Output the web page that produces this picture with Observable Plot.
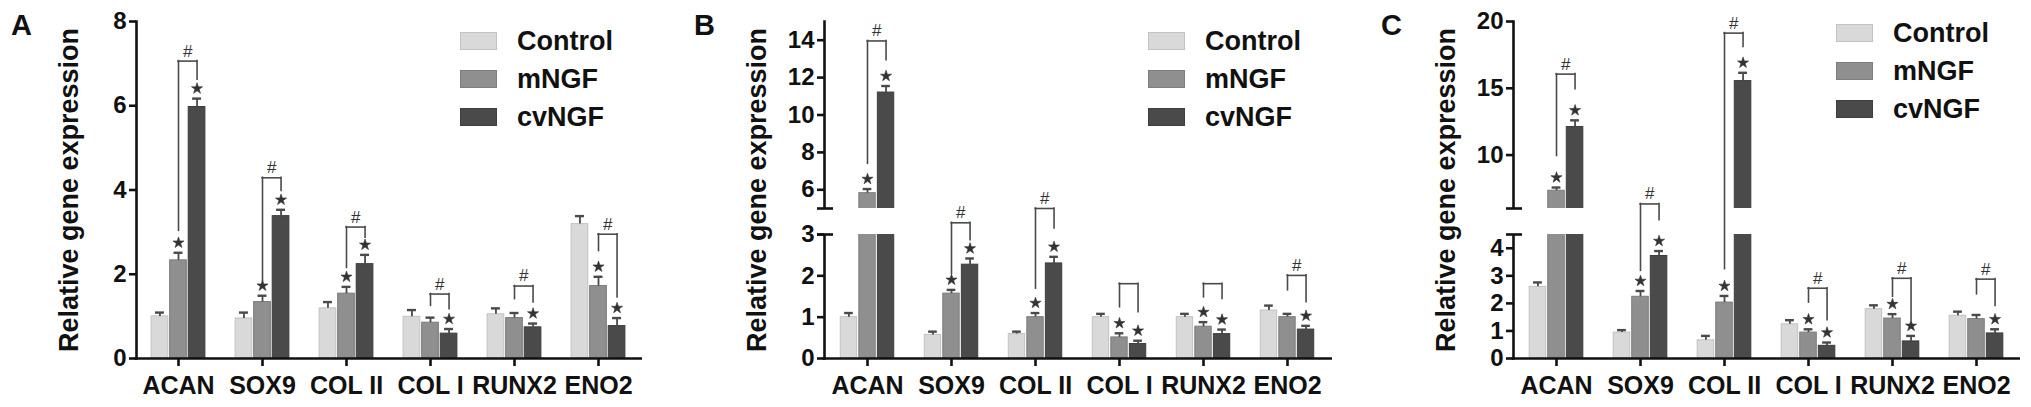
<!DOCTYPE html>
<html><head><meta charset="utf-8">
<script src="https://cdn.jsdelivr.net/npm/d3@7"></script>
<script src="https://cdn.jsdelivr.net/npm/@observablehq/plot@0.6"></script>
<style>
body{margin:0;background:#fff;}
#root{position:relative;width:2031px;height:407px;overflow:hidden;font-family:Arial,"Liberation Sans",sans-serif;color:#111;}
.panel{position:absolute;top:0;}
.letter{position:absolute;font-size:29px;font-weight:bold;line-height:29px;}
.legend{position:absolute;}
.row{display:flex;align-items:center;height:18px;margin-bottom:20px;}
.sw{width:37px;height:18px;margin-right:20px;box-sizing:border-box;}
.lab{font-size:27px;font-weight:bold;line-height:18px;white-space:nowrap;}
</style></head><body><div id="root"></div>
<script>
// ---------- shared categories ----------
const genes = ["ACAN", "SOX9", "COL II", "COL I", "RUNX2", "ENO2"];
const groups = ["Control", "mNGF", "cvNGF"];
const groupColors = ["#d9d9d9", "#8f8f8f", "#4a4a4a"];
const groupStrokes = ["#c2c2c2", "#7c7c7c", "#3e3e3e"];
const yTitle = "Relative gene expression";
const panelLetters = ["A", "B", "C"];

// ---------- Panel A ----------
const aControl    = [1.00, 0.95, 1.19, 0.99, 1.05, 3.19];
const aControlErr = [0.09, 0.14, 0.15, 0.16, 0.14, 0.19];
const aMNGF       = [2.33, 1.34, 1.54, 0.85, 0.96, 1.72];
const aMNGFErr    = [0.18, 0.15, 0.16, 0.12, 0.12, 0.22];
const aCvNGF      = [5.97, 3.38, 2.24, 0.59, 0.74, 0.77];
const aCvNGFErr   = [0.20, 0.15, 0.22, 0.11, 0.09, 0.19];
const aStarMNGF   = [1, 1, 1, 0, 0, 1];
const aStarCvNGF  = [1, 1, 1, 1, 1, 1];
const aBracketTop   = [7.06, 4.29, 3.12, 1.53, 1.72, 2.95];
const aBracketLeft  = [3.03, 1.84, 2.15, 1.25, 1.41, 2.55];
const aBracketRight = [6.62, 3.98, 2.87, 1.17, 1.33, 1.45];
const aHash         = [1, 1, 1, 1, 1, 1];
const aTicks = [0, 2, 4, 6, 8];
const aTop = 8;

// ---------- Panel B ----------
const bControl    = [1.00, 0.57, 0.59, 1.00, 1.00, 1.16];
const bControlErr = [0.10, 0.08, 0.06, 0.08, 0.08, 0.12];
const bMNGF       = [5.82, 1.57, 1.00, 0.51, 0.77, 1.00];
const bMNGFErr    = [0.22, 0.09, 0.10, 0.10, 0.11, 0.08];
const bCvNGF      = [11.2, 2.27, 2.30, 0.35, 0.59, 0.70];
const bCvNGFErr   = [0.35, 0.15, 0.16, 0.08, 0.11, 0.09];
const bStarMNGF   = [1, 1, 1, 1, 1, 0];
const bStarCvNGF  = [1, 1, 1, 1, 1, 1];
const bBracketTop   = [13.96, 3.90, 5.00, 1.81, 1.81, 2.01];
const bBracketLeft  = [7.39, 2.05, 1.69, 1.24, 1.48, 1.65];
const bBracketRight = [12.93, 2.86, 3.46, 1.12, 1.44, 1.36];
const bHash         = [1, 1, 1, 0, 0, 1];
const bTicks = [0, 1, 2, 3, 6, 8, 10, 12, 14];
const bBreak = [3, 5];
const bTop = 15;

// ---------- Panel C ----------
const cControl    = [2.60, 0.94, 0.66, 1.24, 1.79, 1.55];
const cControlErr = [0.16, 0.09, 0.16, 0.15, 0.14, 0.15];
const cMNGF       = [7.33, 2.24, 2.03, 0.94, 1.45, 1.43];
const cMNGFErr    = [0.24, 0.21, 0.24, 0.12, 0.16, 0.15];
const cCvNGF      = [12.1, 3.72, 15.54, 0.46, 0.62, 0.91];
const cCvNGFErr   = [0.50, 0.18, 0.62, 0.12, 0.20, 0.15];
const cStarMNGF   = [1, 1, 1, 1, 1, 0];
const cStarCvNGF  = [1, 1, 1, 1, 1, 1];
const cBracketTop   = [16.06, 6.34, 19.13, 2.55, 2.91, 2.88];
const cBracketLeft  = [9.93, 3.18, 3.24, 2.03, 2.24, 2.33];
const cBracketRight = [14.93, 5.33, 18.09, 1.39, 1.39, 1.91];
const cHash         = [1, 1, 1, 1, 1, 1];
const cTicks = [0, 1, 2, 3, 4, 10, 15, 20];
const cBreak = [4.5, 6];
const cTop = 20;

// ---------- layout (positions / styles) ----------
const FONT = 'Arial, "Liberation Sans", sans-serif';
const INK = "#111";
const H = 407, ML = 136, MT = 21, MB = 49;
const PLOT_H = H - MT - MB;          // 337 px of axis
const LOWER_H = 124, GAP_H = 26;     // broken-axis segment heights

function makePanel(p) {
  const frameW = p.frameW;
  const MR = p.width - ML - frameW;
  const step = frameW / genes.length;
  const barStep = 18.55, barW = 16.7;
  const off = [-barStep, 0, barStep];
  const means = [p.control, p.mngf, p.cv];
  const errs = [p.controlErr, p.mngfErr, p.cvErr];
  const stars = [null, p.starM, p.starCv];

  // broken axis: warp data values into a continuous axis coordinate
  const warp = p.breakAt
    ? d3.scaleLinear().domain([0, p.breakAt[0], p.breakAt[1], p.top]).range([0, LOWER_H, LOWER_H + GAP_H, PLOT_H])
    : d3.scaleLinear().domain([0, p.top]).range([0, PLOT_H]);
  const W = v => warp(v);

  const marks = [];
  groups.forEach((grp, j) => {
    const d = genes.map((g, i) => ({gene: g, group: grp, mean: W(means[j][i]), top: W(means[j][i] + errs[j][i])}));
    marks.push(Plot.barY(d, {x: "gene", y: "mean", fill: groupColors[j], stroke: groupStrokes[j], strokeWidth: 1,
      insetLeft: (step - barW) / 2, insetRight: (step - barW) / 2, dx: off[j]}));
    marks.push(Plot.ruleX(d, {x: "gene", y1: "mean", y2: "top", dx: off[j], stroke: "#4a4a4a", strokeWidth: 1.8}));
    marks.push(Plot.tickY(d, {x: "gene", y: "top", dx: off[j], insetLeft: step / 2 - 4.5, insetRight: step / 2 - 4.5, stroke: "#4a4a4a", strokeWidth: 2.4}));
  });
  // axes lines
  marks.push(Plot.frame({anchor: "left", stroke: INK, strokeWidth: 2.6}));
  marks.push(Plot.ruleY([0], {stroke: INK, strokeWidth: 2.6, insetRight: -2, insetLeft: -1.3}));
  // axis break
  if (p.breakAt) {
    marks.push(Plot.rect([p.breakAt], {y1: d => W(d[0]), y2: d => W(d[1]), fill: "white", insetLeft: -14}));
    marks.push(Plot.ruleY(p.breakAt.map(W), {stroke: INK, strokeWidth: 2.6, insetLeft: -7, insetRight: frameW - 9}));
  }
  marks.push(Plot.axisY(p.ticks.map(W), {anchor: "left", tickSize: 7, tickPadding: 3, fontSize: 24, strokeWidth: 2.6, color: INK, label: null,
    tickFormat: v => String(Math.round(warp.invert(v) * 10) / 10)}));
  marks.push(Plot.axisX({tickSize: 8, tickPadding: 10, fontSize: 25, strokeWidth: 2.6, color: INK, label: null}));
  marks.push(Plot.text([yTitle], {text: d => d, frameAnchor: "left", textAnchor: "middle", lineAnchor: "middle", dx: -67, rotate: -90, fontSize: 27, fill: INK}));

  // stars
  [1, 2].forEach(j => {
    const d = genes.map((g, i) => ({gene: g, top: W(means[j][i] + errs[j][i]), star: stars[j][i]})).filter(r => r.star);
    marks.push(Plot.dot(d, {x: "gene", y: "top", dx: off[j], dy: -10, symbol: "star", r: 3.5, fill: "#333", stroke: "#333", strokeWidth: 0.6}));
  });
  // brackets
  const br = genes.map((g, i) => ({gene: g, top: W(p.bTop[i]), left: W(p.bLeft[i]), right: W(p.bRight[i]), hash: p.hash[i]}));
  const bstyle = {stroke: "#4a4a4a", strokeWidth: 1.6, strokeLinecap: "square"};
  marks.push(Plot.ruleX(br, {x: "gene", y1: "left", y2: "top", dx: off[1], ...bstyle}));
  marks.push(Plot.ruleX(br, {x: "gene", y1: "right", y2: "top", dx: off[2], ...bstyle}));
  marks.push(Plot.tickY(br, {x: "gene", y: "top", insetLeft: step / 2 + off[1], insetRight: step / 2 - off[2], ...bstyle}));
  marks.push(Plot.text(br.filter(b => b.hash), {x: "gene", y: "top", text: () => "#", dx: (off[1] + off[2]) / 2, dy: -10, fontSize: 17, fontWeight: "normal", fill: "#333"}));

  const svg = Plot.plot({
    width: p.width, height: H,
    marginLeft: ML, marginRight: MR, marginTop: MT, marginBottom: MB,
    style: {fontFamily: FONT, fontWeight: "bold", color: INK, background: "transparent", overflow: "visible"},
    x: {domain: genes, padding: 0},
    y: {domain: [0, PLOT_H]},
    marks
  });
  const wrap = document.createElement("div");
  wrap.className = "panel";
  wrap.style.left = p.left + "px";
  wrap.appendChild(svg);
  return wrap;
}

function makeLegend(left, top) {
  const div = document.createElement("div");
  div.className = "legend";
  div.style.left = left + "px";
  div.style.top = top + "px";
  groups.forEach((g, j) => {
    const row = document.createElement("div");
    row.className = "row";
    const sw = document.createElement("div");
    sw.className = "sw";
    sw.style.background = groupColors[j];
    sw.style.border = "1px solid " + groupStrokes[j];
    const lab = document.createElement("div");
    lab.className = "lab";
    lab.textContent = g;
    row.appendChild(sw); row.appendChild(lab);
    div.appendChild(row);
  });
  return div;
}

function makeLetter(text, left, top) {
  const d = document.createElement("div");
  d.className = "letter";
  d.textContent = text;
  d.style.left = left + "px";
  d.style.top = top + "px";
  return d;
}

const root = document.getElementById("root");
const panels = [
  {left: 0, width: 688, frameW: 504, control: aControl, controlErr: aControlErr, mngf: aMNGF, mngfErr: aMNGFErr, cv: aCvNGF, cvErr: aCvNGFErr,
   starM: aStarMNGF, starCv: aStarCvNGF, bTop: aBracketTop, bLeft: aBracketLeft, bRight: aBracketRight, hash: aHash,
   ticks: aTicks, top: aTop, breakAt: null, legend: [460, 32], letter: [11, 11]},
  {left: 688, width: 687, frameW: 506, control: bControl, controlErr: bControlErr, mngf: bMNGF, mngfErr: bMNGFErr, cv: bCvNGF, cvErr: bCvNGFErr,
   starM: bStarMNGF, starCv: bStarCvNGF, bTop: bBracketTop, bLeft: bBracketLeft, bRight: bBracketRight, hash: bHash,
   ticks: bTicks, top: bTop, breakAt: bBreak, legend: [1148, 32], letter: [694, 11]},
  {left: 1377, width: 654, frameW: 505, control: cControl, controlErr: cControlErr, mngf: cMNGF, mngfErr: cMNGFErr, cv: cCvNGF, cvErr: cCvNGFErr,
   starM: cStarMNGF, starCv: cStarCvNGF, bTop: cBracketTop, bLeft: cBracketLeft, bRight: cBracketRight, hash: cHash,
   ticks: cTicks, top: cTop, breakAt: cBreak, legend: [1836, 24], letter: [1381, 11]}
];
panels.forEach((p, k) => {
  root.appendChild(makePanel(p));
  root.appendChild(makeLegend(p.legend[0], p.legend[1]));
  root.appendChild(makeLetter(panelLetters[k], p.letter[0], p.letter[1]));
});
</script>
</body></html>
